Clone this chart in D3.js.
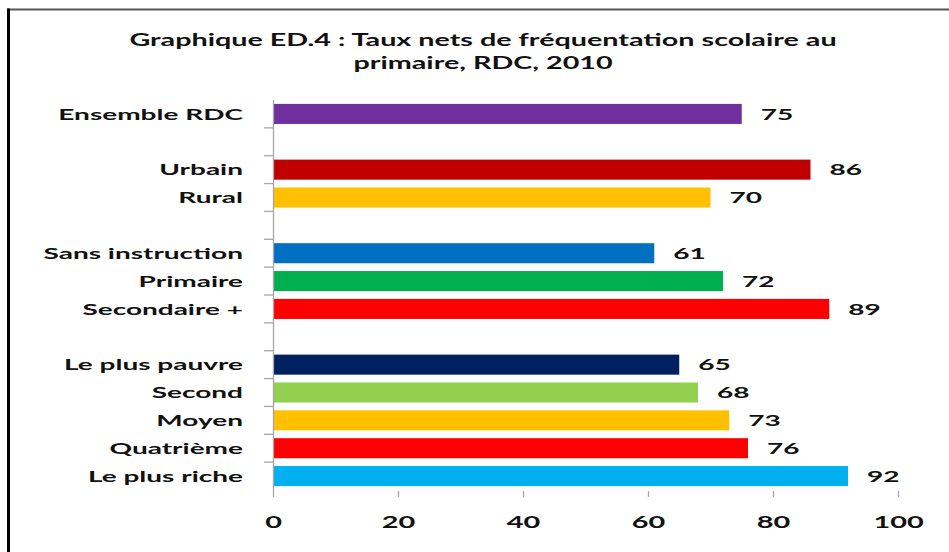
<!DOCTYPE html>
<html>
<head>
<meta charset="utf-8">
<script src="https://cdn.jsdelivr.net/npm/d3@7"></script>
<style>
  html, body { margin: 0; padding: 0; background: #fff; }
  svg { display: block; }
  text { font-family: Lato, "Open Sans", sans-serif; font-weight: 700; fill: #111; }
</style>
</head>
<body>
<svg id="chart" width="949" height="552"></svg>
<script>
// ---- data ----
const titleLines = ["Graphique ED.4 : Taux nets de fréquentation scolaire au", "primaire, RDC, 2010"];
const categories = ["Ensemble RDC", "", "Urbain", "Rural", "", "Sans instruction", "Primaire", "Secondaire +", "", "Le plus pauvre", "Second", "Moyen", "Quatrième", "Le plus riche"];
const values = [75, null, 86, 70, null, 61, 72, 89, null, 65, 68, 73, 76, 92];
const barColors = ["#7030A0", null, "#C00000", "#FFC000", null, "#0070C0", "#00B050", "#FF0000", null, "#002060", "#92D050", "#FFC000", "#FF0000", "#00B0F0"];
const xTicks = [0, 20, 40, 60, 80, 100];

// ---- layout ----
const SX_TITLE = 1.69;     // horizontal stretch of the source picture's text
const SX = 1.75;
const svg = d3.select("#chart");

// frame
svg.append("line").attr("x1", 7).attr("x2", 949).attr("y1", 9.5).attr("y2", 9.5)
  .attr("stroke", "#555").attr("stroke-width", 2);
svg.append("line").attr("x1", 8.5).attr("x2", 8.5).attr("y1", 8.5).attr("y2", 552)
  .attr("stroke", "#000").attr("stroke-width", 3);

// title
titleLines.forEach((t, i) => {
  svg.append("text")
    .attr("transform", `translate(483,${46 + i * 22.5}) scale(${SX_TITLE},1)`)
    .attr("text-anchor", "middle")
    .style("font-size", "17px")
    .text(t);
});

const x = d3.scaleLinear().domain([0, 100]).range([273, 898]);
const y = d3.scaleBand().domain(d3.range(categories.length)).range([100, 490])
  .paddingInner(0.28).paddingOuter(0.14);

// bars
const rows = categories.map((c, i) => ({ c, v: values[i], col: barColors[i], i }));
svg.append("g").selectAll("rect").data(rows.filter(d => d.v != null)).join("rect")
  .attr("x", x(0) + 1)
  .attr("y", d => y(d.i))
  .attr("width", d => x(d.v) - x(0) - 1)
  .attr("height", y.bandwidth())
  .attr("fill", d => d.col);

// vertical axis line + boundary ticks
const step = y.step();
const y0 = y.range()[0];
svg.append("line").attr("x1", x(0) + 0.5).attr("x2", x(0) + 0.5).attr("y1", y0).attr("y2", y.range()[1] + 1)
  .attr("stroke", "#A6A6A6").attr("stroke-width", 1.3);
svg.append("g").selectAll("line").data(d3.range(1, categories.length)).join("line")
  .attr("x1", x(0) - 9).attr("x2", x(0))
  .attr("y1", k => y0 + k * step).attr("y2", k => y0 + k * step)
  .attr("stroke", "#A6A6A6").attr("stroke-width", 1.3);

// category labels
svg.append("g").selectAll("text").data(rows.filter(d => d.c)).join("text")
  .attr("transform", d => `translate(243,${y(d.i) + y.bandwidth() / 2}) scale(${SX},1)`)
  .attr("text-anchor", "end")
  .attr("dy", "0.36em")
  .style("font-size", "16px")
  .text(d => d.c);

// value labels
svg.append("g").selectAll("text").data(rows.filter(d => d.v != null)).join("text")
  .attr("transform", d => `translate(${x(d.v) + 19},${y(d.i) + y.bandwidth() / 2}) scale(${SX},1)`)
  .attr("dy", "0.36em")
  .style("font-size", "16px")
  .text(d => d.v);

// x axis
const xAxis = svg.append("g").attr("transform", `translate(0,${y.range()[1] + 1})`)
  .call(d3.axisBottom(x).tickValues(xTicks).tickSize(6).tickSizeOuter(0));
xAxis.select(".domain").remove();
xAxis.selectAll(".tick line").attr("stroke", "#A6A6A6").attr("stroke-width", 1.3);
xAxis.selectAll(".tick text")
  .attr("y", 0).attr("dy", 0)
  .attr("transform", `translate(0,37) scale(${SX},1)`)
  .style("font-size", "16.5px")
  .style("font-family", "Lato, 'Open Sans', sans-serif")
  .style("font-weight", 700)
  .attr("fill", "#111");
</script>
</body>
</html>
